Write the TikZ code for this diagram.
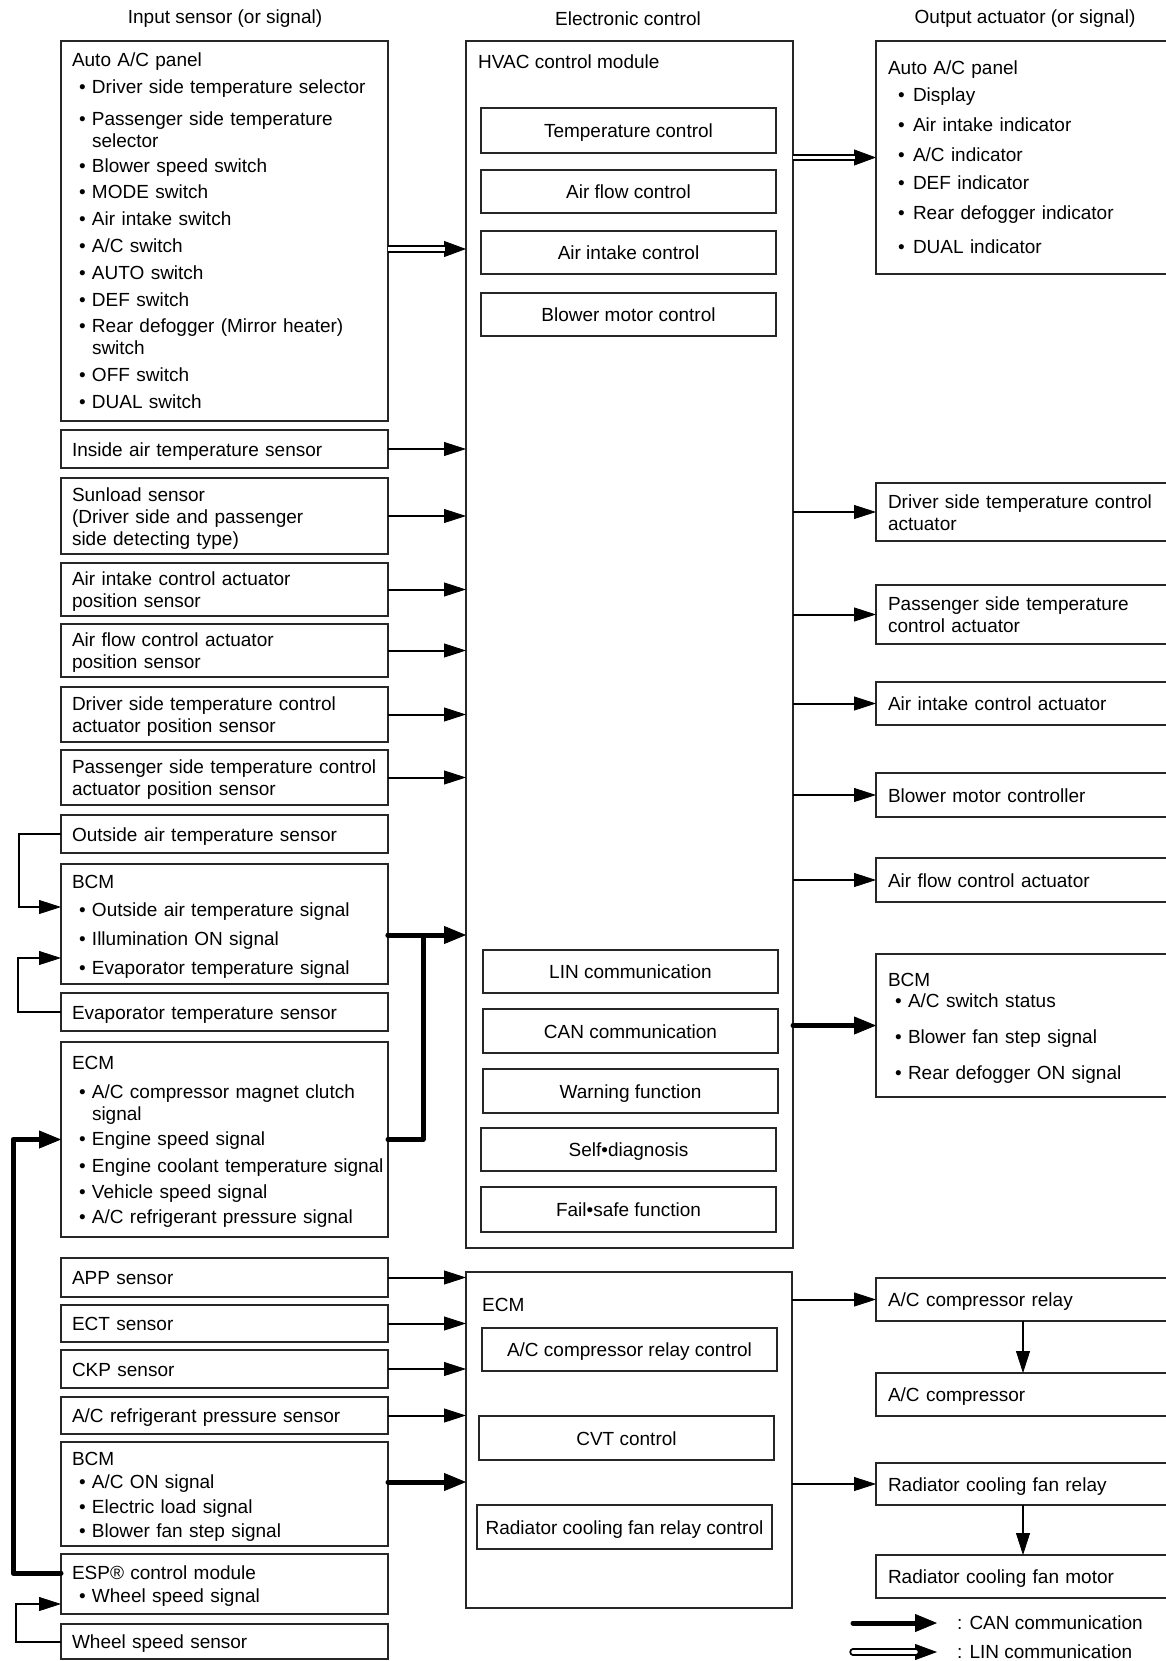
\documentclass[tikz,border=0pt]{standalone}
\usepackage{fontspec}
\setmainfont{Liberation Sans}
\usetikzlibrary{arrows.meta}
\usetikzlibrary{positioning}

\newcommand{\tstrut}{\rule[-4pt]{0pt}{22pt}}
\newcommand{\itm}[1]{\hspace*{7pt}\makebox[13pt][l]{•}\mbox{#1}}
\newcommand{\ritm}[1]{\hspace*{10pt}\makebox[15pt][l]{•}\mbox{#1}}
\newcommand{\cont}[1]{\hspace*{20pt}#1}

\tikzset{
  box/.style={draw=black!85, line width=1.8pt, rectangle, anchor=north west, outer sep=0pt, inner ysep=0pt},
  lbox/.style={box, minimum width=327pt, inner xsep=11pt, text width=305pt, align=left,
    execute at begin node=\tstrut, execute at end node=\tstrut},
  rbox/.style={box, minimum width=294pt, inner xsep=12pt, text width=270pt, align=left,
    execute at begin node=\tstrut, execute at end node=\tstrut},
  cbox/.style={box, minimum width=295pt, minimum height=43pt, inner xsep=4pt, align=center,
    execute at begin node=\tstrut},
  arr/.style={draw=black, line width=2pt, -{Triangle[length=22pt,width=14pt,line width=0.8pt]}},
  can/.style={draw=black, line width=5pt, line cap=round, line join=round,
    -{Triangle[length=22pt,width=18pt,line width=0.8pt]}},
  canl/.style={draw=black, line width=5pt, line cap=round, line join=round},
  lin/.style={draw=black, line width=7.5pt, -{Triangle[length=22pt,width=16pt,line width=0.8pt]},
    postaction={draw=white, line width=3.5pt, -, shorten >=21pt}}
}

\begin{document}
\begin{tikzpicture}[x=1pt,y=-1pt,font=\fontsize{19}{22}\selectfont]
\useasboundingbox (0,0) rectangle (1166,1661);
\fill[white] (0,0) rectangle (1166,1661);
\clip (0,0) rectangle (1166,1661);

\node (tIn) at (225,19) {Input sensor (or signal)};
\node (tEl) at (628,19) {Electronic control};
\node (tOut) at (1025,19) {Output actuator (or signal)};

% input column
\node[lbox, minimum height=380pt] (panelL) at (61,41) {Auto A/C panel\\[5pt]
  \itm{Driver side temperature selector}\\[10pt]
  \itm{Passenger side temperature}\\
  \cont{selector}\\[3pt]
  \itm{Blower speed switch}\\[4pt]
  \itm{MODE switch}\\[5pt]
  \itm{Air intake switch}\\[5pt]
  \itm{A/C switch}\\[5pt]
  \itm{AUTO switch}\\[5pt]
  \itm{DEF switch}\\[4pt]
  \itm{Rear defogger (Mirror heater)}\\
  \cont{switch}\\[5pt]
  \itm{OFF switch}\\[5pt]
  \itm{DUAL switch}};
\node[lbox, minimum height=38pt] (inair) at (61,430) {Inside air temperature sensor};
\node[lbox, minimum height=76pt] (sunload) at (61,478) {Sunload sensor\\(Driver side and passenger\\side detecting type)};
\node[lbox, minimum height=53pt] (intakepos) at (61,563) {Air intake control actuator\\position sensor};
\node[lbox, minimum height=53pt] (flowpos) at (61,624) {Air flow control actuator\\position sensor};
\node[lbox, minimum height=55pt] (drvpos) at (61,687) {Driver side temperature control\\actuator position sensor};
\node[lbox, minimum height=55pt] (paspos) at (61,750) {Passenger side temperature control\\actuator position sensor};
\node[lbox, minimum height=38pt] (outair) at (61,815) {Outside air temperature sensor};
\node[lbox, minimum height=120pt] (bcmA) at (61,864) {BCM\\[6pt]
  \itm{Outside air temperature signal}\\[7pt]
  \itm{Illumination ON signal}\\[7pt]
  \itm{Evaporator temperature signal}};
\node[lbox, minimum height=38pt] (evap) at (61,993) {Evaporator temperature sensor};
\node[lbox, minimum height=195pt] (ecmA) at (61,1042) {ECM\\[7pt]
  \itm{A/C compressor magnet clutch}\\
  \cont{signal}\\[3pt]
  \itm{Engine speed signal}\\[5pt]
  \itm{Engine coolant temperature signal}\\[4pt]
  \itm{Vehicle speed signal}\\[3pt]
  \itm{A/C refrigerant pressure signal}};
\node[lbox, minimum height=39pt] (app) at (61,1258) {APP sensor};
\node[lbox, minimum height=37pt] (ect) at (61,1305) {ECT sensor};
\node[lbox, minimum height=38pt] (ckp) at (61,1350) {CKP sensor};
\node[lbox, minimum height=37pt] (refr) at (61,1397) {A/C refrigerant pressure sensor};
\node[lbox, minimum height=104pt] (bcmB) at (61,1442) {BCM\\[1pt]
  \itm{A/C ON signal}\\[3pt]
  \itm{Electric load signal}\\[2pt]
  \itm{Blower fan step signal}};
\node[lbox, minimum height=60pt] (esp) at (61,1554) {ESP® control module\\[1pt]\itm{Wheel speed signal}};
\node[lbox, minimum height=35pt] (whl) at (61,1624) {Wheel speed sensor};

% electronic control
\node[box, minimum width=327pt, minimum height=1207pt] (hvac) at (466,41) {};
\node[anchor=west, inner sep=0pt] (hvacT) at (478,62) {HVAC control module};
\node[cbox, minimum height=45pt] (tempc) at (481,108) {Temperature control};
\node[cbox] (flowc) at (481,170) {Air flow control};
\node[cbox] (intakec) at (481,231) {Air intake control};
\node[cbox] (blowc) at (481,293) {Blower motor control};
\node[cbox] (linc) at (483,950) {LIN communication};
\node[cbox, minimum height=44pt] (canc) at (483,1009) {CAN communication};
\node[cbox, minimum height=44pt] (warnc) at (483,1069) {Warning function};
\node[cbox] (selfc) at (481,1128) {Self•diagnosis};
\node[cbox, minimum height=45pt] (failc) at (481,1187) {Fail•safe function};
\node[box, minimum width=326pt, minimum height=336pt] (ecmB) at (466,1272) {};
\node[anchor=west, inner sep=0pt] (ecmT) at (482,1305) {ECM};
\node[cbox] (acrc) at (482,1328) {A/C compressor relay control};
\node[cbox, minimum height=44pt] (cvtc) at (479,1416) {CVT control};
\node[cbox, minimum height=44pt] (rfrc) at (477,1505) {Radiator cooling fan relay control};

% output column
\node[rbox, minimum height=233pt] (panelR) at (876,41) {Auto A/C panel\\[5pt]
  \ritm{Display}\\[8pt]
  \ritm{Air intake indicator}\\[8pt]
  \ritm{A/C indicator}\\[6pt]
  \ritm{DEF indicator}\\[8pt]
  \ritm{Rear defogger indicator}\\[12pt]
  \ritm{DUAL indicator}};
\node[rbox, minimum height=58pt] (drvact) at (876,483) {Driver side temperature control\\actuator};
\node[rbox, minimum height=59pt] (pasact) at (876,585) {Passenger side temperature\\control actuator};
\node[rbox, minimum height=43pt] (intact) at (876,682) {Air intake control actuator};
\node[rbox, minimum height=44pt] (blwc) at (876,773) {Blower motor controller};
\node[rbox, minimum height=44pt] (flwact) at (876,858) {Air flow control actuator};
\node[rbox, minimum height=143pt] (bcmR) at (876,954) {BCM\\[-1pt]
  \itm{A/C switch status}\\[14pt]
  \itm{Blower fan step signal}\\[14pt]
  \itm{Rear defogger ON signal}};
\node[rbox, minimum height=43pt] (acrel) at (876,1278) {A/C compressor relay};
\node[rbox, minimum height=43pt] (acc) at (876,1373) {A/C compressor};
\node[rbox, minimum height=42pt] (rfrel) at (876,1463) {Radiator cooling fan relay};
\node[rbox, minimum height=43pt] (rfmot) at (876,1555) {Radiator cooling fan motor};

% signals
\coordinate (linA) at ([yshift=-18pt]panelL.east);
\draw[lin] (linA) -- (linA -| hvac.west);
\draw[lin] (hvac.east |- panelR.west) -- (panelR.west);
\foreach \n in {inair,sunload,intakepos,flowpos,drvpos,paspos}
  \draw[arr] (\n.east) -- (\n.east -| hvac.west);
\foreach \n in {drvact,pasact,intact,blwc,flwact}
  \draw[arr] (hvac.east |- \n.west) -- (\n.west);
\foreach \n in {app,ect,ckp,refr}
  \draw[arr] (\n.east) -- (\n.east -| ecmB.west);
\foreach \n in {acrel,rfrel}
  \draw[arr] (ecmB.east |- \n.west) -- (\n.west);
\draw[arr] (acrel.south) -- (acc.north);
\draw[arr] (rfrel.south) -- (rfmot.north);

\draw[arr] (outair.west) -- ++(-42,0) |- ([yshift=17pt]bcmA.west);
\draw[arr] (evap.west) -- ++(-43,0) |- ([yshift=-34pt]bcmA.west);
\draw[arr] (whl.west) -- ++(-45,0) |- ([yshift=-20pt]esp.west);

\coordinate (canA) at ([yshift=-11pt]bcmA.east);
\draw[can] (canA) -- (canA -| hvac.west);
\draw[canl] (ecmA.east) -- ++(35,0) |- (canA);
\draw[can] (hvac.east |- bcmR.west) -- (bcmR.west);
\coordinate (canB) at ([yshift=12pt]bcmB.east);
\draw[can] (canB) -- (canB -| ecmB.west);
\draw[can] ([yshift=11pt]esp.west) -- ++(-48,0) |- (ecmA.west);

% legend
\coordinate (lgcanA) at (853,1623);
\coordinate (lgcanB) at (937,1623);
\coordinate (lglinA) at (853,1652);
\coordinate (lglinB) at (937,1652);
\draw[can] (lgcanA) -- (lgcanB);
\draw[lin, line cap=round] (lglinA) -- (lglinB);
\node[anchor=west, inner sep=0pt] (lgcanT) at (957,1623) {: CAN communication};
\node[anchor=west, inner sep=0pt] (lglinT) at (957,1652) {: LIN communication};

\end{tikzpicture}
\end{document}
